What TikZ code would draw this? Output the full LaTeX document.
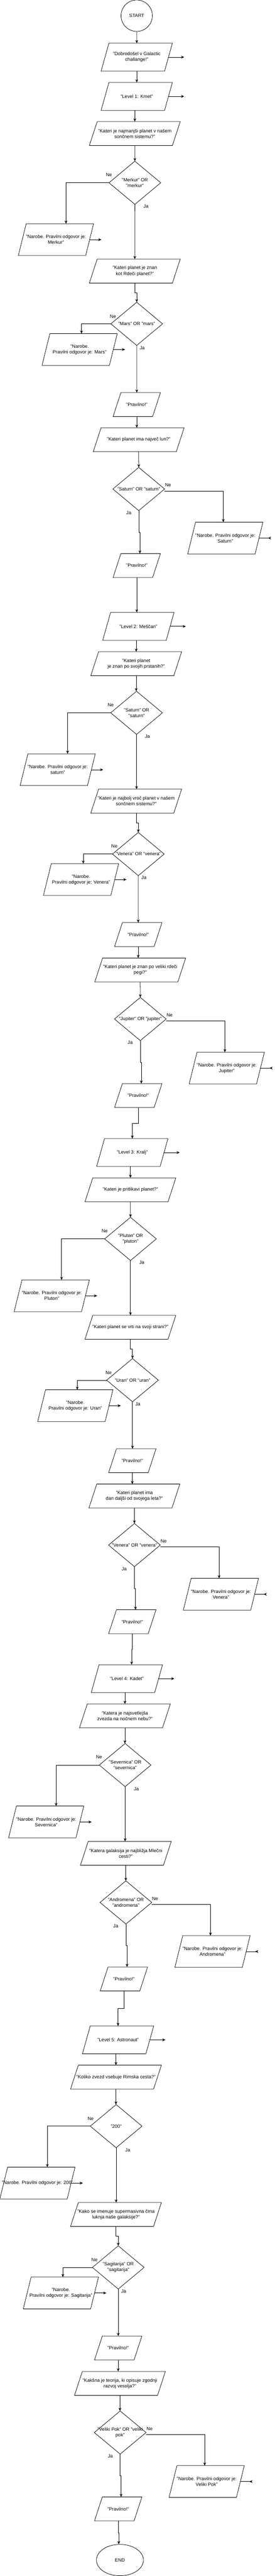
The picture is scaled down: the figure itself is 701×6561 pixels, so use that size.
\documentclass[tikz,border=0pt]{standalone}
\usepackage{fontspec}
\setmainfont{Liberation Sans}
\usetikzlibrary{shapes.geometric,arrows.meta}
\begin{document}
\begin{tikzpicture}[x=1pt, y=-1pt, line width=1pt,
    font=\fontsize{12}{14.5}\selectfont,
    >={Stealth[length=8pt,width=7pt]},
    back/.style={-{Stealth[length=8pt,width=7pt,reversed]}},
    terminal/.style={draw, inner sep=0pt},
    box/.style={inner sep=0pt, align=center},
    ask/.style={minimum width=231pt, minimum height=60pt},
    level/.style={minimum width=181pt, minimum height=70pt},
    ok/.style={minimum width=120pt, minimum height=60pt},
    wrong/.style={minimum width=191pt, minimum height=80pt},
    choice/.style={minimum width=131pt, minimum height=109pt}]

    \useasboundingbox (0,0) rectangle (701,6561);

    \node[terminal, circle, minimum size=80pt] (start) at (349,40) {START};

    \node[box, level] (io1) at (349.1,145.5) {"Dobrodošel v Galactic\\challange!"};
    \node[box, level] (io2) at (349.1,245.5) {"Level 1: Kmet"};
    \node[box, ask] (io3) at (344.1,340.2) {"Kateri je najmanjši planet v našem\\sončnem sistemu?"};
    \node[box, choice] (dec1) at (344.3,465.5) {"Merkur" OR\\"merkur"};
    \node[box, wrong] (wrong1) at (142.8,610.4) {"Narobe. Pravilni odgovor je:\\Merkur"};
    \node[box, ask] (io4) at (344.1,690.4) {"Kateri planet je znan\\kot Rdeči planet?"};
    \node[box, choice] (dec2) at (349,824.8) {"Mars" OR "mars"};
    \node[box, wrong] (wrong2) at (203.3,890.2) {"Narobe.\\Pravilni odgovor je: Mars"};
    \node[box, ok] (io5) at (349.1,1030.5) {"Pravilno!"};
    \node[box, ask] (io6) at (354,1120) {"Kateri planet ima največ lun?"};
    \node[box, choice] (dec3) at (354.2,1245.5) {"Saturn" OR "saturn"};
    \node[box, wrong] (wrong3) at (575.2,1370.4) {"Narobe. Pravilni odgovor je:\\Saturn"};
    \node[box, ok] (io7) at (349.1,1440.4) {"Pravilno!"};
    \node[box, level] (io8) at (353.3,1595.4) {"Level 2: Meščan"};
    \node[box, ask] (io9) at (347.7,1690.4) {"Kateri planet\\je znan po svojih prstanih?"};
    \node[box, choice] (dec4) at (348.6,1815.5) {"Saturn" OR\\"saturn"};
    \node[box, wrong] (wrong4) at (147.3,1960.4) {"Narobe. Pravilni odgovor je:\\saturn"};
    \node[box, ask] (io10) at (347.7,2040.4) {"Kateri je najbolj vroč planet v našem\\sončnem sistemu?"};
    \node[box, choice] (dec5) at (353.1,2175.2) {"Venera" OR "venera"};
    \node[box, wrong] (wrong5) at (206.9,2240.2) {"Narobe.\\Pravilni odgovor je: Venera"};
    \node[box, ok] (io11) at (352.9,2380.4) {"Pravilno!"};
    \node[box, ask] (io12) at (358,2470.4) {"Kateri planet je znan po veliki rdeči\\pegi?"};
    \node[box, choice] (dec6) at (358.2,2595.4) {"Jupiter" OR "jupiter"};
    \node[box, wrong] (wrong6) at (578.9,2720.4) {"Narobe. Pravilni odgovor je:\\Jupiter"};
    \node[box, ok] (io13) at (352.9,2790.4) {"Pravilno!"};
    \node[box, level] (io14) at (337.8,2935.4) {"Level 3: Kralj"};
    \node[box, ask] (io15) at (332.9,3030.4) {"Kateri je pritlikavi planet?"};
    \node[box, choice] (dec7) at (333.1,3155.4) {"Pluton" OR\\"pluton"};
    \node[box, wrong] (wrong7) at (132.1,3300.4) {"Narobe. Pravilni odgovor je:\\Pluton"};
    \node[box, ask] (io16) at (332.9,3380.4) {"Kateri planet se vrti na svoji strani?"};
    \node[box, choice] (dec8) at (338.3,3515.2) {"Uran" OR "uran"};
    \node[box, wrong] (wrong8) at (192.3,3580.2) {"Narobe.\\Pravilni odgovor je: Uran"};
    \node[box, ok] (io17) at (337.8,3720.4) {"Pravilno!"};
    \node[box, ask] (io18) at (343,3810.4) {"Kateri planet ima\\dan daljši od svojega leta?"};
    \node[box, choice] (dec9) at (343.2,3935.2) {"Venera" OR "venera"};
    \node[box, wrong] (wrong9) at (564,4060.4) {"Narobe. Pravilni odgovor je:\\Venera"};
    \node[box, ok] (io19) at (337.8,4130.4) {"Pravilno!"};
    \node[box, level] (io20) at (323.9,4275.4) {"Level 4: Kadet"};
    \node[box, ask] (io21) at (318.9,4370.2) {"Katera je najsvetlejša\\zvezda na nočnem nebu?"};
    \node[box, choice] (dec10) at (319.4,4495.5) {"Severnica" OR\\"severnica"};
    \node[box, wrong] (wrong10) at (117.9,4640.5) {"Narobe. Pravilni odgovor je:\\Severnica"};
    \node[box, ask] (io22) at (321.2,4720.4) {"Katera galaksija je najbližja Mlečni\\cesti?"};
    \node[box, choice] (dec11) at (321.4,4845.4) {"Andromena" OR\\"andromena"};
    \node[box, wrong] (wrong11) at (542.5,4970.4) {"Narobe. Pravilni odgovor je:\\Andromena"};
    \node[box, ok] (io23) at (316.3,5040.4) {"Pravilno!"};
    \node[box, level] (io24) at (301.4,5195.4) {"Level 5: Astronaut"};
    \node[box, ask] (io25) at (296,5290.4) {"Koliko zvezd vsebuje Rimska cesta?"};
    \node[box, choice] (dec12) at (296.5,5415.2) {"200"};
    \node[box, wrong] (wrong12) at (95.5,5560.2) {"Narobe. Pravilni odgovor je: 200"};
    \node[box, ask] (io26) at (296,5640.2) {"Kako se imenuje supermasivna črna\\luknja naše galaksije?"};
    \node[box, choice] (dec13) at (301.9,5775) {"Sagitarija" OR\\"sagitarija"};
    \node[box, wrong] (wrong13) at (155.4,5840.1) {"Narobe.\\Pravilni odgovor je: Sagitarija"};
    \node[box, ok] (io27) at (301.7,5980.2) {"Pravilno!"};
    \node[box, ask] (io28) at (306.2,6070.4) {"Kakšna je teorija, ki opisuje zgodnji\\razvoj vesolja?"};
    \node[box, choice] (dec14) at (306.8,6195.5) {"Veliki Pok" OR "veliki\\pok"};
    \node[box, wrong] (wrong14) at (527.6,6320.3) {"Narobe. Pravilni odgovor je:\\Veliki Pok"};
    \node[box, ok] (io29) at (301.7,6390.1) {"Pravilno!"};

    \node[terminal, ellipse, minimum width=120pt, minimum height=80pt] (stop) at (306.2,6520.4) {END};

    \foreach \i in {1,...,29}
        \draw ([xshift=20pt]io\i.north west) -- (io\i.north east) -- ([xshift=-20pt]io\i.south east) -- (io\i.south west) -- cycle;
    \foreach \i in {1,...,14} {
        \draw ([xshift=20pt]wrong\i.north west) -- (wrong\i.north east) -- ([xshift=-20pt]wrong\i.south east) -- (wrong\i.south west) -- cycle;
        \draw (dec\i.north) -- (dec\i.east) -- (dec\i.south) -- (dec\i.west) -- cycle;
    }

    \node (ne1) at (278,445.8) {Ne};
    \node (ja1) at (372.9,525.4) {Ja};
    \node (ne2) at (288.4,806) {Ne};
    \node (ja2) at (363,885.7) {Ja};
    \node (ne3) at (429,1235.7) {Ne};
    \node (ja3) at (328.8,1306) {Ja};
    \node (ne4) at (282.6,1795.7) {Ne};
    \node (ja4) at (376.5,1875.7) {Ja};
    \node (ne5) at (292,2155.4) {Ne};
    \node (ja5) at (367.5,2235.7) {Ja};
    \node (ne6) at (433,2585.7) {Ne};
    \node (ja6) at (332.4,2655.4) {Ja};
    \node (ne7) at (267.3,3135.7) {Ne};
    \node (ja7) at (362.1,3215.7) {Ja};
    \node (ne8) at (277.2,3495.7) {Ne};
    \node (ja8) at (351.8,3575.7) {Ja};
    \node (ne9) at (417.8,3925.7) {Ne};
    \node (ja9) at (317.2,3996) {Ja};
    \node (ne10) at (252.9,4475.7) {Ne};
    \node (ja10) at (348.2,4556) {Ja};
    \node (ne11) at (395.8,4835.7) {Ne};
    \node (ja11) at (295.6,4905.4) {Ja};
    \node (ne12) at (231.4,5395.7) {Ne};
    \node (ja12) at (326.1,5475.7) {Ja};
    \node (ne13) at (241.2,5755.5) {Ne};
    \node (ja13) at (315.8,5835.4) {Ja};
    \node (ne14) at (381.9,6186) {Ne};
    \node (ja14) at (281.7,6256) {Ja};

    \draw[->] (start.south) -- (io1.north);
    \draw[->] (io1.south) -- (io2.north);
    \draw[->] (io2.south -| io3.north) -- (io3.north);
    \draw[->] (io3.south) -- (dec1.north);
    \draw[->] (dec1.west) -| ([xshift=25.7pt]wrong1.north);
    \draw[->] (dec1.south) -- (io4.north);
    \draw[->] (io4.south) -- ++(0,25) -| (dec2.north);
    \draw[->] (dec2.west) -| ([xshift=4.7pt]wrong2.north);
    \draw[->] (dec2.south) -- (io5.north);
    \draw[->] (io5.south) -- (io5.south |- io6.north);
    \draw[->] (io6.south) -- (dec3.north);
    \draw[->] ([yshift=-5pt]dec3.east) -| ([xshift=-5.2pt]wrong3.north);
    \draw[->] (dec3.south) -- ++(0,55) -| ([xshift=8pt]io7.north);
    \draw[->] (io7.south) -- (io7.south |- io8.north);
    \draw[->] (io8.south -| io9.north) -- (io9.north);
    \draw[->] (io9.south) -- (io9.south |- dec4.north);
    \draw[->] (dec4.west) -| ([xshift=25.2pt]wrong4.north);
    \draw[->] (dec4.south) -- (dec4.south |- io10.north);
    \draw[->] (io10.south) -- ++(0,25) -| (dec5.north);
    \draw[->] (dec5.west) -| ([xshift=5.6pt]wrong5.north);
    \draw[->] (dec5.south) -- (io11.north);
    \draw[->] (io11.south) -- (io11.south |- io12.north);
    \draw[->] (io12.south) -- (dec6.north);
    \draw[->] ([yshift=-5pt]dec6.east) -| ([xshift=-4.8pt]wrong6.north);
    \draw[->] (dec6.south) -- ++(0,55.4) -| ([xshift=7.8pt]io13.north);
    \draw[->] (io13.south) -- ++(0,40) -| (io14.north);
    \draw[->] (io14.south -| io15.north) -- (io15.north);
    \draw[->] (io15.south) -- (dec7.north);
    \draw[->] (dec7.west) -| ([xshift=25.1pt]wrong7.north);
    \draw[->] (dec7.south) -- (dec7.south |- io16.north);
    \draw[->] (io16.south) -- ++(0,25) -| (dec8.north);
    \draw[->] (dec8.west) -| ([xshift=4.9pt]wrong8.north);
    \draw[->] (dec8.south) -- (dec8.south |- io17.north);
    \draw[->] (io17.south) -- (io17.south |- io18.north);
    \draw[->] (io18.south) -- (dec9.north);
    \draw[->] ([yshift=-5pt]dec9.east) -| ([xshift=-4.7pt]wrong9.north);
    \draw[->] (dec9.south) -- ++(0,55.4) -| ([xshift=8.1pt]io19.north);
    \draw[->] (io19.south) -- ++(0,40.3) -| ([xshift=12.1pt]io20.north);
    \draw[->] (io20.south -| io21.north) -- (io21.north);
    \draw[->] (io21.south) -- (io21.south |- dec10.north);
    \draw[->] (dec10.west) -| ([xshift=25.4pt]wrong10.north);
    \draw[->] (dec10.south) -- (dec10.south |- io22.north);
    \draw[->] (io22.south) -- (io22.south |- dec11.north);
    \draw[->] ([yshift=-5pt]dec11.east) -| ([xshift=-5.2pt]wrong11.north);
    \draw[->] (dec11.south) -- ++(0,55) -| ([xshift=8pt]io23.north);
    \draw[->] (io23.south) -- ++(0,45) -| (io24.north);
    \draw[->] (io24.south -| io25.north) -- (io25.north);
    \draw[->] (io25.south) -- (io25.south |- dec12.north);
    \draw[->] (dec12.west) -| ([xshift=25.3pt]wrong12.north);
    \draw[->] (dec12.south) -- (dec12.south |- io26.north);
    \draw[->] (io26.south) -- ++(0,24.8) -| (dec13.north);
    \draw[->] (dec13.west) -| ([xshift=5pt]wrong13.north);
    \draw[->] (dec13.south) -- (dec13.south |- io27.north);
    \draw[->] (io27.south) -- (io27.south |- io28.north);
    \draw[->] (io28.south) -- (io28.south |- dec14.north);
    \draw[->] ([yshift=-5pt]dec14.east) -| ([xshift=-5.1pt]wrong14.north);
    \draw[->] (dec14.south) -- ++(0,55.2) -| ([xshift=7.4pt]io29.north);
    \draw[->] (io29.south) -- ++(0,30.3) -| ([xshift=-3pt]stop.north);

    \foreach \n in {io1,io2,io8,io14,io20,io24}
        \draw[->] ([xshift=-10pt]\n.east) -- ++(40,0);
    \foreach \n in {wrong1,wrong2,wrong4,wrong5,wrong7,wrong8,wrong10,wrong12,wrong13}
        \draw[->] ([xshift=-10pt]\n.east) -- ++(30,0);
    \foreach \n in {wrong3,wrong6,wrong9,wrong11,wrong14}
        \draw[back] ([xshift=-10pt]\n.east) -- ++(31,0);

\end{tikzpicture}
\end{document}
